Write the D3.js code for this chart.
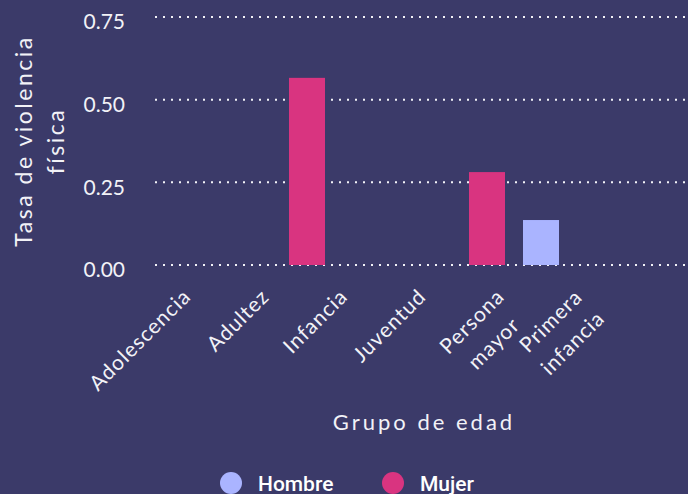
<!DOCTYPE html>
<html>
<head>
<meta charset="utf-8">
<script src="https://cdn.jsdelivr.net/npm/d3@7"></script>
<style>
  body { margin: 0; background: #3b3a69; }
  svg { display: block; }
</style>
</head>
<body>
<div id="grafico"></div>
<script>
// datos
var grupos = ["Adolescencia", "Adultez", "Infancia", "Juventud", "Persona mayor", "Primera infancia"];
var sexos = ["Hombre", "Mujer"];
var tasaHombre = [null, null, null, null, 0.136, null];
var tasaMujer = [null, 0.566, null, 0.281, null, null];
var ticksY = [0, 0.25, 0.5, 0.75];
var colores = ["#aab4ff", "#d93480"];

var w = 688;
var h = 494;
var fuente = "Lato, 'Noto Sans', sans-serif";
var claro = "#f2f2f7";

var svg = d3.select("#grafico")
  .append("svg")
  .attr("width", w)
  .attr("height", h);

svg.append("rect")
  .attr("width", w)
  .attr("height", h)
  .attr("fill", "#3b3a69");

var x0 = d3.scaleBand()
  .domain(grupos)
  .range([154, 694])
  .paddingInner(0.2)
  .paddingOuter(0.1);

var x1 = d3.scaleBand()
  .domain(sexos)
  .range([0, x0.bandwidth()]);

var y = d3.scaleLinear()
  .domain([0, 0.75])
  .range([265, 17]);

var color = d3.scaleOrdinal()
  .domain(sexos)
  .range(colores);

// lineas punteadas
svg.append("g")
  .selectAll("line")
  .data(ticksY)
  .enter()
  .append("line")
    .attr("x1", 155)
    .attr("x2", w)
    .attr("y1", d => y(d))
    .attr("y2", d => y(d))
    .attr("stroke", claro)
    .attr("stroke-width", 2)
    .attr("stroke-dasharray", "2 6");

// etiquetas eje y
svg.append("g")
  .attr("font-family", fuente)
  .attr("font-size", 21)
  .attr("fill", claro)
  .attr("text-anchor", "end")
  .selectAll("text")
  .data(ticksY)
  .enter()
  .append("text")
    .attr("x", 125)
    .attr("y", d => y(d) + 5)
    .attr("dy", "0.35em")
    .text(d => d3.format(".2f")(d));

// barras
var filas = [];
grupos.forEach((g, i) => {
  if (tasaHombre[i] != null) filas.push({grupo: g, sexo: "Hombre", valor: tasaHombre[i]});
  if (tasaMujer[i] != null) filas.push({grupo: g, sexo: "Mujer", valor: tasaMujer[i]});
});

svg.append("g")
  .selectAll("rect")
  .data(filas)
  .enter()
  .append("rect")
    .attr("x", d => x0(d.grupo) + x1(d.sexo))
    .attr("width", x1.bandwidth())
    .attr("y", d => y(d.valor))
    .attr("height", d => y(0) - y(d.valor))
    .attr("fill", d => color(d.sexo));

// etiquetas eje x (rotadas)
var xEtiq = d3.scalePoint()
  .domain(grupos)
  .range([192, 584]);

var etiquetas = svg.append("g")
  .attr("font-family", fuente)
  .attr("font-size", 21)
  .attr("letter-spacing", 1)
  .attr("fill", claro)
  .selectAll("g")
  .data(grupos)
  .enter()
  .append("g")
    .attr("transform", d => `translate(${xEtiq(d)},298) rotate(-45)`);

etiquetas.each(function(d) {
  var partes = d.split(" ");
  var t = d3.select(this).append("text").attr("text-anchor", "middle");
  partes.forEach((p, k) => {
    t.append("tspan").attr("y", k * 31).text(p);
  });
  var ancho = d3.max(t.selectAll("tspan").nodes(), n => n.getComputedTextLength());
  t.selectAll("tspan").attr("x", -ancho / 2);
});

// titulo eje y
var tituloY = svg.append("text")
  .attr("transform", "translate(32,141) rotate(-90)")
  .attr("font-family", fuente)
  .attr("font-size", 23)
  .attr("letter-spacing", 2.5)
  .attr("fill", claro)
  .attr("text-anchor", "middle");
tituloY.append("tspan").attr("x", 0).attr("y", 0).text("Tasa de violencia");
tituloY.append("tspan").attr("x", 0).attr("y", 32).text("física");

// titulo eje x
svg.append("text")
  .attr("x", (154 + 694) / 2)
  .attr("y", 430)
  .attr("font-family", fuente)
  .attr("font-size", 22)
  .attr("letter-spacing", 3)
  .attr("fill", claro)
  .attr("text-anchor", "middle")
  .text("Grupo de edad");

// leyenda
var leyX = d3.scaleOrdinal()
  .domain(sexos)
  .range([231, 393]);

var ley = svg.append("g")
  .selectAll("g")
  .data(sexos)
  .enter()
  .append("g")
    .attr("transform", d => `translate(${leyX(d)},483)`);

ley.append("circle")
  .attr("r", 11)
  .attr("fill", d => color(d));

ley.append("text")
  .attr("x", 27)
  .attr("y", 8)
  .attr("font-family", "Roboto, sans-serif")
  .attr("font-weight", 500)
  .attr("font-size", 21)
  .attr("fill", "#ffffff")
  .text(d => d);
</script>
</body>
</html>
